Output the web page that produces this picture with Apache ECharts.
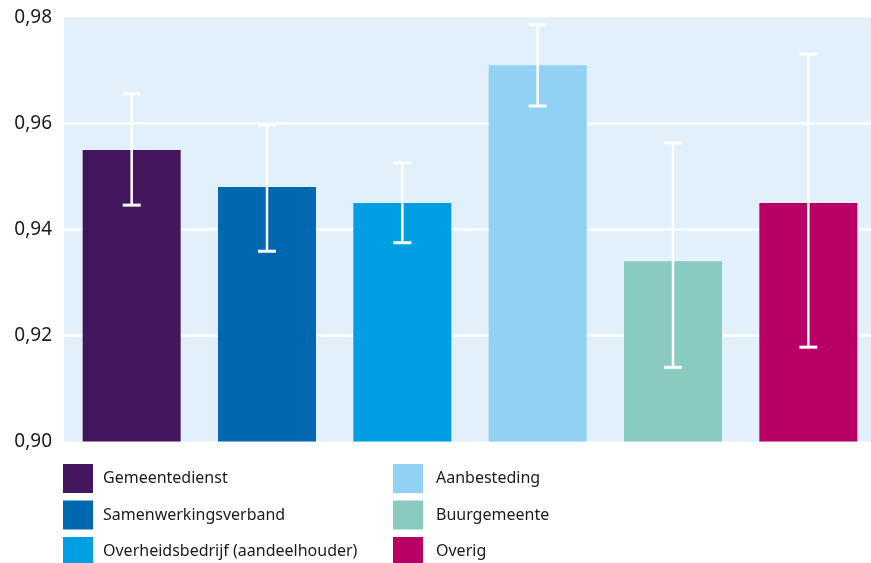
<!DOCTYPE html>
<html>
<head>
<meta charset="utf-8">
<script src="https://cdn.jsdelivr.net/npm/echarts@6/dist/echarts.min.js"></script>
<style>
  html, body { margin: 0; padding: 0; background: #ffffff; overflow: hidden; }
  #chart { width: 880px; height: 563px; }
</style>
</head>
<body>
<div id="chart"></div>
<script>
// Organisation types, mean score per type and 95% interval bounds
const categories = ['Gemeentedienst', 'Samenwerkingsverband', 'Overheidsbedrijf (aandeelhouder)', 'Aanbesteding', 'Buurgemeente', 'Overig'];
const values = [0.955, 0.948, 0.945, 0.971, 0.934, 0.945];
const lower  = [0.9446, 0.9359, 0.9375, 0.9633, 0.9140, 0.9178];
const upper  = [0.9656, 0.9597, 0.9526, 0.9786, 0.9563, 0.9731];
const colors = ['#44165d', '#0067b1', '#009fe3', '#91d1f3', '#89cbc0', '#b80064'];
const yTicks = [0.90, 0.92, 0.94, 0.96, 0.98];

const chart = echarts.init(document.getElementById('chart'), null, { renderer: 'canvas' });

// one bar series per organisation type so each gets its own legend entry
const barSeries = categories.map((name, i) => ({
  name: name,
  type: 'bar',
  barWidth: 98,
  barGap: '-100%',
  itemStyle: { color: colors[i] },
  data: categories.map((_, j) => (j === i ? values[i] : '-')),
  z: 2
}));

const errorData = categories.map((_, i) => [i, lower[i], upper[i]]);

const errorSeries = {
  type: 'custom',
  name: 'interval',
  data: errorData,
  z: 5,
  silent: true,
  renderItem: function (params, api) {
    const x = api.value(0);
    const lo = api.coord([x, api.value(1)]);
    const hi = api.coord([x, api.value(2)]);
    const cx = lo[0];
    const half = 9;
    const cap = { stroke: '#ffffff', lineWidth: 3 };
    return {
      type: 'group',
      children: [
        { type: 'line', shape: { x1: cx, y1: hi[1], x2: cx, y2: lo[1] }, style: { stroke: '#ffffff', lineWidth: 2.5 } },
        { type: 'line', shape: { x1: cx - half, y1: hi[1], x2: cx + half, y2: hi[1] }, style: cap },
        { type: 'line', shape: { x1: cx - half, y1: lo[1], x2: cx + half, y2: lo[1] }, style: cap }
      ]
    };
  }
};

// legend: two columns of three entries
const legendCols = [63, 393];
const legendRows = [464, 500.5, 537];
const legends = categories.map((name, i) => ({
  orient: 'horizontal',
  left: legendCols[Math.floor(i / 3)],
  top: legendRows[i % 3],
  padding: 0,
  icon: 'rect',
  itemWidth: 30,
  itemHeight: 29,
  data: [name],
  selectedMode: false,
  textStyle: {
    fontFamily: 'Noto Sans',
    fontSize: 16,
    color: '#1a1a1a',
    padding: [0, 0, 0, i < 3 ? 5 : 8]
  }
}));

chart.setOption({
  animation: false,
  backgroundColor: '#ffffff',
  textStyle: { fontFamily: 'Noto Sans' },
  grid: {
    left: 64,
    top: 17.5,
    width: 812,
    height: 424,
    show: true,
    backgroundColor: '#e1f0fa',
    borderWidth: 0
  },
  legend: legends,
  xAxis: {
    type: 'category',
    data: categories,
    boundaryGap: true,
    axisLine: { show: false },
    axisTick: { show: false },
    axisLabel: { show: false },
    splitLine: { show: false }
  },
  yAxis: {
    type: 'value',
    min: yTicks[0],
    max: yTicks[yTicks.length - 1],
    interval: 0.02,
    axisLine: { show: false },
    axisTick: { show: false },
    axisLabel: {
      margin: 12,
      fontFamily: 'Noto Sans',
      fontSize: 19,
      color: '#1a1a1a',
      formatter: v => v.toFixed(2).replace('.', ',')
    },
    splitLine: {
      show: true,
      showMinLine: false,
      showMaxLine: false,
      lineStyle: { color: '#ffffff', width: 2.5 }
    }
  },
  series: barSeries.concat([errorSeries])
});
</script>
</body>
</html>
